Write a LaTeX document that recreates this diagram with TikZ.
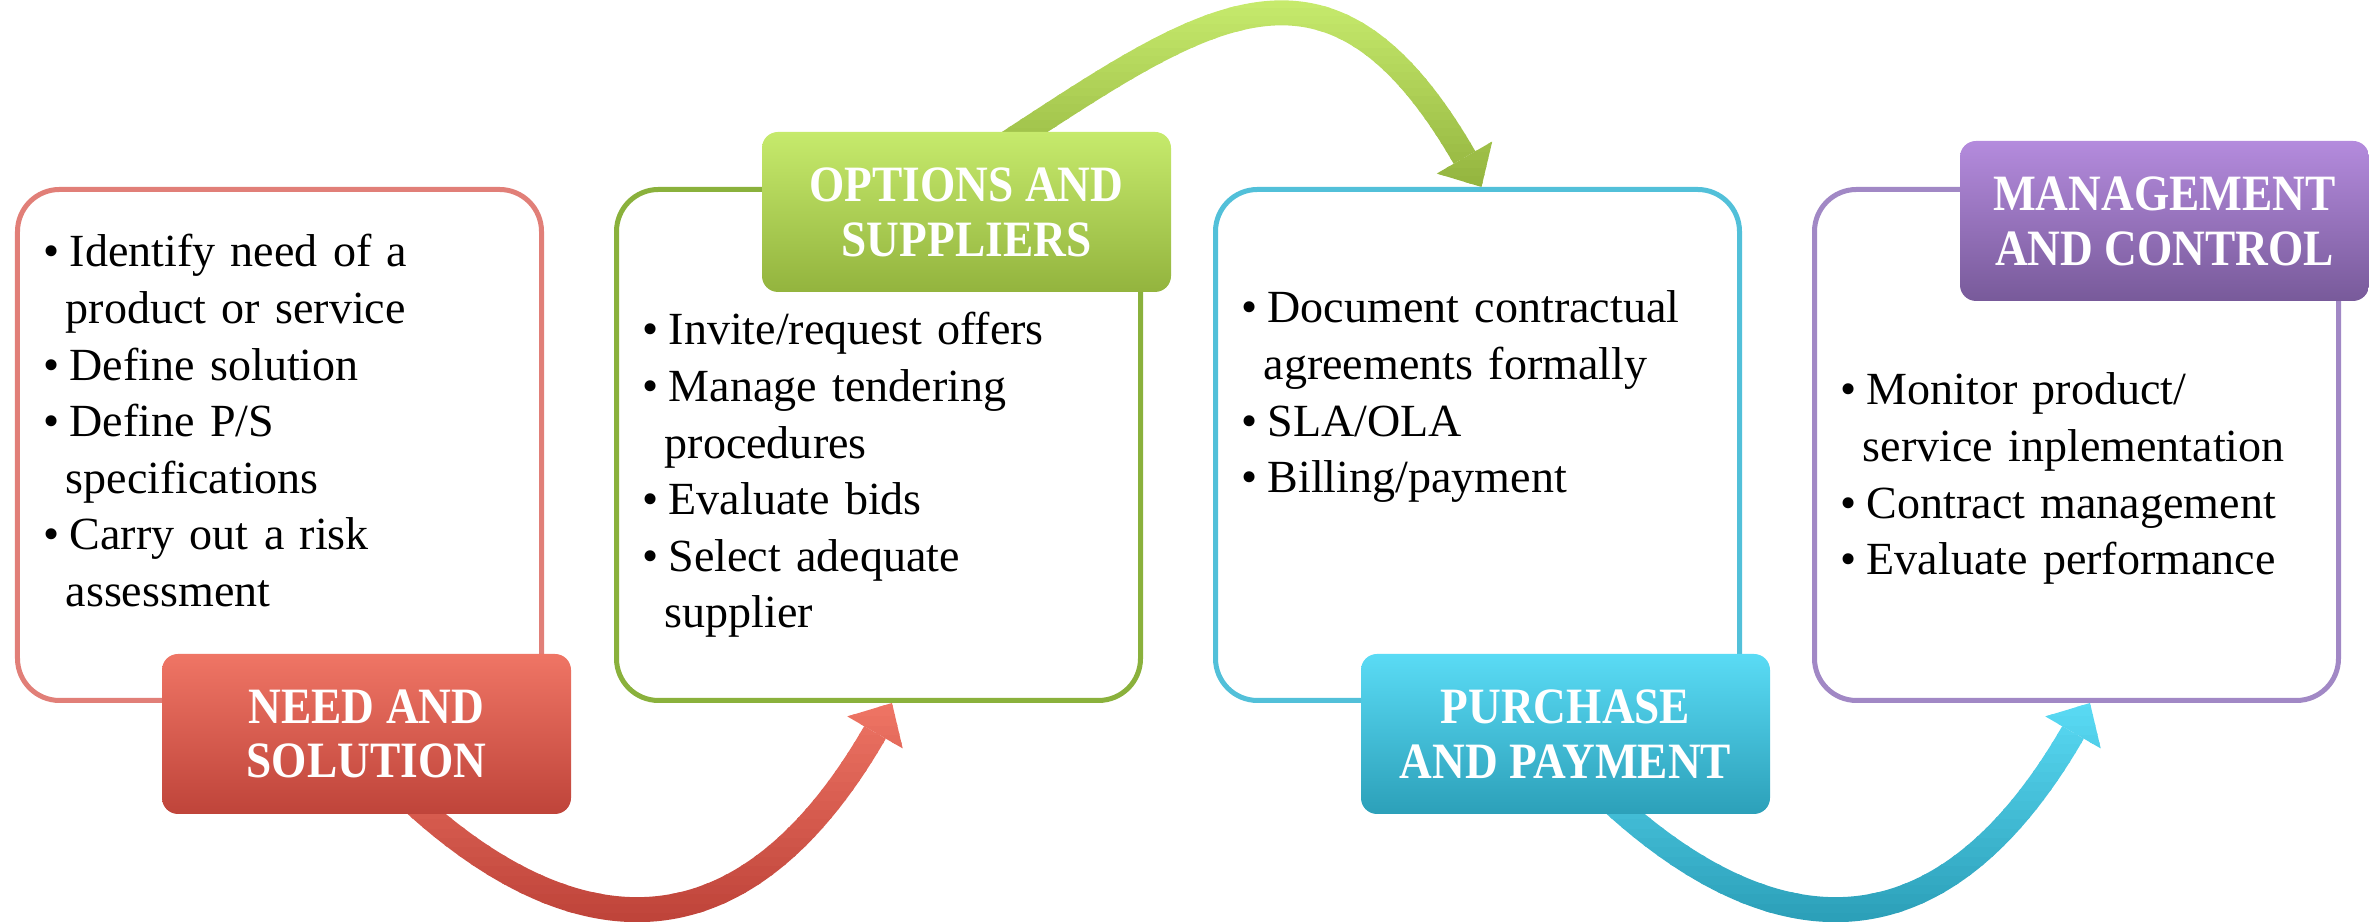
\documentclass[tikz,border=0pt]{standalone}
\usepackage{fontspec}
\setmainfont{Liberation Serif}
\newfontfamily\headfont{Liberation Serif}[FakeStretch=0.89]
\usetikzlibrary{positioning,arrows.meta,backgrounds}

\definecolor{needline}{HTML}{E17F78}
\definecolor{needtop}{HTML}{EF7565}
\definecolor{needbot}{HTML}{BF443A}
\definecolor{optline}{HTML}{8AB13C}
\definecolor{opttop}{HTML}{C6EA6C}
\definecolor{optbot}{HTML}{93B43E}
\definecolor{payline}{HTML}{52C0D9}
\definecolor{paytop}{HTML}{5ADBF5}
\definecolor{paybot}{HTML}{2CA0B9}
\definecolor{ctrlline}{HTML}{A188C5}
\definecolor{ctrltop}{HTML}{B48BDD}
\definecolor{ctrlbot}{HTML}{785A9A}

\newcommand{\pitem}[1]{\hangindent=0.22cm\hangafter=1\makebox[0.26cm][l]{\textbullet}#1\par}

% thick curved arrow, shaded from bottom colour to top colour in thin bands
\newcommand{\flowarrow}[5]{%
  \foreach \k in {0,...,23} {
    \pgfmathsetmacro{\ylo}{#1+(#2-#1)*\k/24}
    \pgfmathsetmacro{\yhi}{#1+(#2-#1)*(\k+1)/24+0.01}
    \pgfmathtruncatemacro{\mixp}{100*\k/23}
    \begin{scope}
      \clip (0,\ylo) rectangle (23.69,\yhi);
      \draw[flow, color=#4!\mixp!#3] #5;
    \end{scope}
  }
}

\begin{document}
\begin{tikzpicture}[
    stage/.style={draw=#1, line width=0.05cm, rounded corners=0.42cm, fill=white,
      minimum width=5.24cm, minimum height=5.11cm},
    tag/.style 2 args={rounded corners=0.16cm, top color=#1, bottom color=#2,
      minimum width=4.09cm, minimum height=1.60cm, inner sep=0pt, outer sep=0pt,
      text=white, align=center, font=\headfont\bfseries\fontsize{14.5}{15.6}\selectfont},
    notes/.style={anchor=base west, inner sep=0pt, text width=4.9cm, align=left,
      font=\fontsize{13.1}{16.1}\selectfont},
    flow/.style={line width=0.25cm, -{Triangle[width=0.64cm, length=0.34cm, line width=0pt]}}
  ]
  \useasboundingbox (0,0) rectangle (23.69,9.22);

  \node[stage=needline] (b1) at (2.795,4.77) {};
  \node[stage=optline, right=0.7cm of b1] (b2) {};
  \node[stage=payline, right=0.7cm of b2] (b3) {};
  \node[stage=ctrlline, right=0.7cm of b3] (b4) {};

  \node[tag={needtop}{needbot}, anchor=north west] (h1) at ([shift={(1.47,0.49)}]b1.south west) {NEED AND\\SOLUTION};
  \node[tag={opttop}{optbot}, anchor=north west] (h2) at ([shift={(1.48,0.55)}]b2.north west) {OPTIONS AND\\SUPPLIERS};
  \node[tag={paytop}{paybot}, anchor=north west] (h3) at ([shift={(1.48,0.49)}]b3.south west) {PURCHASE\\AND PAYMENT};
  \node[tag={ctrltop}{ctrlbot}, anchor=north west] (h4) at ([shift={(1.48,0.46)}]b4.north west) {MANAGEMENT\\AND CONTROL};

  \node[notes] (t1) at ([shift={(0.28,-0.80)}]b1.north west) {
    \pitem{Identify need of a\newline product or service}
    \pitem{Define solution}
    \pitem{Define P/S\newline specifications}
    \pitem{Carry out a risk\newline assessment}
  };
  \node[notes] (t2) at ([shift={(0.28,-1.58)}]b2.north west) {
    \pitem{Invite/request offers}
    \pitem{Manage tendering\newline procedures}
    \pitem{Evaluate bids}
    \pitem{Select adequate\newline supplier}
  };
  \node[notes] (t3) at ([shift={(0.28,-1.36)}]b3.north west) {
    \pitem{Document contractual\newline agreements formally}
    \pitem{SLA/OLA}
    \pitem{Billing/payment}
  };
  \node[notes] (t4) at ([shift={(0.28,-2.18)}]b4.north west) {
    \pitem{Monitor product/\newline service inplementation}
    \pitem{Contract management}
    \pitem{Evaluate performance}
  };

  \begin{scope}[on background layer]
    \flowarrow{0}{2.25}{needbot}{needtop}{([shift={(0.235,0.34)}]h1.south) .. controls +(-45:1.9) and +(240:3.5) .. ([xshift=0.135cm]b2.south)}
    \flowarrow{7.30}{9.22}{optbot}{opttop}{([shift={(0.245,-0.22)}]h2.north) .. controls +(33:2.5) and +(120:3.1) .. ([xshift=0.04cm]b3.north)}
    \flowarrow{0}{2.25}{paybot}{paytop}{([shift={(0.235,0.34)}]h3.south) .. controls +(-45:1.9) and +(240:3.5) .. ([xshift=0.135cm]b4.south)}
  \end{scope}
\end{tikzpicture}
\end{document}
